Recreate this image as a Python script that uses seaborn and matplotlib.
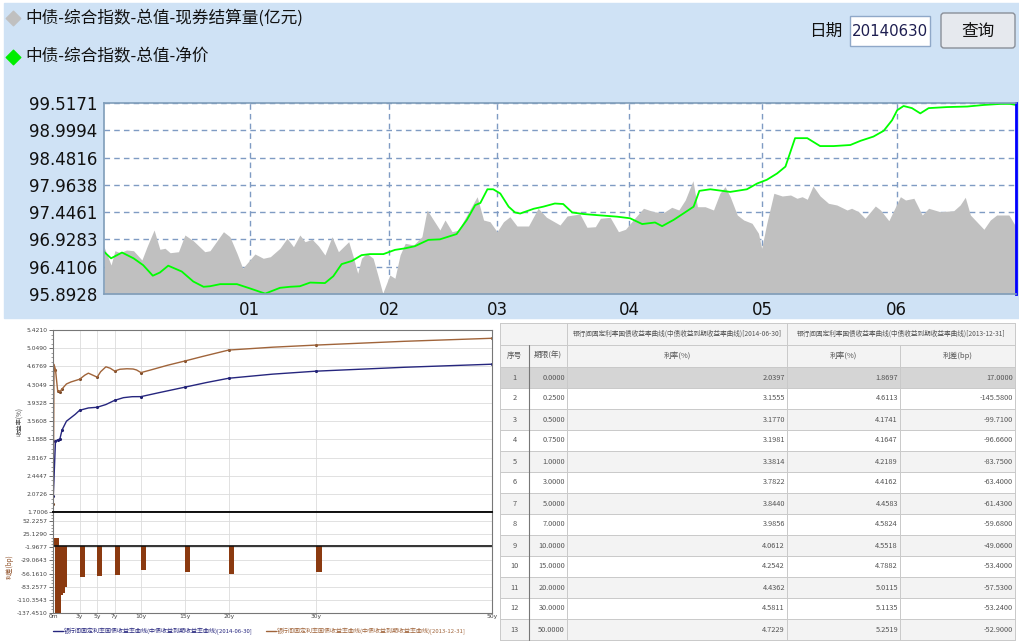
import matplotlib
matplotlib.use("Agg")
import matplotlib.pyplot as plt
from matplotlib.patches import Rectangle, FancyBboxPatch
from matplotlib.ticker import AutoMinorLocator
import seaborn as sns

# ---- top chart: 中债综合指数 (x = trading-day index, 2013-12 .. 2014-06-30)
month_labels = ["01", "02", "03", "04", "05", "06"]
month_pos = [22.7, 44.4, 61.2, 81.8, 102.5, 123.4]
price_ticks = [95.8928, 96.4106, 96.9283, 97.4461, 97.9638, 98.4816, 98.9994, 99.5171]

price_day = [0, 1.1, 2.8, 4.6, 6.1, 7.6, 8.7, 10.0, 12.1, 13.9,
             15.5, 16.5, 18.1, 20.7, 22.7, 25.1, 27.4, 29.0, 30.5, 32.1,
             34.4, 35.7, 37.0, 38.6, 40.1, 41.4, 43.5, 45.3, 46.9, 48.4,
             50.5, 52.3, 54.9, 56.5, 57.8, 58.6, 59.7, 60.6, 61.7, 63.0,
             64.0, 64.8, 66.9, 68.4, 70.2, 71.5, 72.9, 74.7, 76.7, 79.9,
             81.9, 83.8, 85.8, 86.9, 88.7, 90.2, 91.8, 92.7, 94.4, 97.5,
             100.1, 101.7, 103.2, 104.8, 106.1, 107.6, 109.5, 111.5, 113.6, 116.2,
             117.8, 119.8, 121.4, 122.7, 123.5, 124.5, 125.8, 127.1, 128.4, 131.3,
             134.4, 137.0, 139.6, 141.1, 142.0]
price_val = [96.695, 96.57, 96.68, 96.57, 96.44, 96.24, 96.30, 96.43, 96.32, 96.13,
             96.03, 96.04, 96.08, 96.08, 96.00, 95.90, 96.01, 96.03, 96.04, 96.11,
             96.10, 96.23, 96.46, 96.52, 96.63, 96.65, 96.65, 96.73, 96.76, 96.80,
             96.92, 96.93, 97.03, 97.30, 97.58, 97.62, 97.88, 97.88, 97.80, 97.55,
             97.44, 97.42, 97.51, 97.55, 97.61, 97.60, 97.44, 97.41, 97.39, 97.36,
             97.33, 97.22, 97.25, 97.18, 97.30, 97.42, 97.55, 97.85, 97.88, 97.83,
             97.88, 97.99, 98.06, 98.18, 98.31, 98.85, 98.85, 98.70, 98.70, 98.72,
             98.80, 98.88, 98.99, 99.19, 99.38, 99.46, 99.42, 99.32, 99.42, 99.44,
             99.45, 99.48, 99.50, 99.50, 99.48]

vol_day = [0, 1.1, 1.7, 2.5, 3.5, 4.6, 5.9, 6.7, 7.8, 8.7,
           9.5, 10.3, 11.6, 12.6, 13.9, 15.7, 16.5, 18.6, 19.6, 20.7,
           21.6, 23.5, 24.8, 25.9, 27.4, 28.5, 29.5, 30.5, 31.3, 32.4,
           33.4, 34.4, 35.5, 36.5, 38.1, 38.8, 39.5, 40.1, 40.9, 41.9,
           42.7, 43.4, 44.5, 45.3, 46.1, 46.9, 48.2, 49.5, 50.3, 51.3,
           52.3, 53.1, 54.2, 55.2, 56.5, 58.1, 59.1, 60.1, 61.2, 62.2,
           63.2, 64.3, 66.1, 67.6, 68.9, 71.0, 72.1, 74.1, 75.2, 76.5,
           77.3, 78.8, 80.1, 81.2, 82.4, 84.0, 85.6, 87.1, 88.4, 89.5,
           90.5, 91.7, 92.4, 93.6, 94.9, 95.9, 96.7, 97.5, 98.6, 99.6,
           100.9, 101.9, 102.4, 103.2, 104.3, 105.6, 106.9, 107.9, 108.7, 109.5,
           110.4, 111.5, 112.8, 114.1, 115.7, 116.4, 117.5, 118.5, 120.1, 120.9,
           122.2, 124.0, 124.8, 126.1, 127.4, 128.4, 130.2, 132.3, 133.3, 134.1,
           134.9, 137.0, 138.0, 139.0, 140.9, 142.0]
vol_val = [993, 609, 909, 867, 924, 909, 714, 993, 1344, 939,
           960, 867, 888, 1239, 1119, 888, 909, 1308, 1203, 855,
           540, 840, 750, 783, 960, 1170, 993, 1239, 1098, 1149,
           1008, 819, 1203, 888, 1098, 783, 435, 750, 855, 750,
           363, 15, 399, 330, 819, 1065, 1029, 1203, 1764, 1554,
           1344, 1554, 1308, 1344, 1659, 2043, 1554, 1518, 1308, 1518,
           1623, 1428, 1428, 1800, 1611, 1449, 1638, 1680, 1401, 1413,
           1590, 1611, 1308, 1359, 1554, 1800, 1728, 1707, 1821, 1764,
           1974, 2379, 1833, 1833, 1764, 2115, 2253, 2043, 1659, 1554,
           1485, 1275, 960, 1485, 2115, 2058, 2079, 2010, 2043, 1989,
           2268, 2058, 1905, 1869, 1764, 1800, 1728, 1590, 1848, 1764,
           1539, 2043, 1974, 2010, 1659, 1800, 1728, 1749, 1869, 2031,
           1659, 1359, 1554, 1659, 1659, 1413]

# ---- yield curves and spread table
key_tenor = [0, 0.25, 0.5, 0.75, 1, 3, 5, 7, 10, 15, 20, 30, 50]
rate_0630 = [2.0397, 3.1555, 3.1770, 3.1981, 3.3814, 3.7822, 3.8440,
             3.9856, 4.0612, 4.2542, 4.4362, 4.5811, 4.7229]
rate_1231 = [1.8697, 4.6113, 4.1741, 4.1647, 4.2189, 4.4162, 4.4583,
             4.5824, 4.5518, 4.7882, 5.0115, 5.1135, 5.2519]
spread_bp = [17.0, -145.58, -99.71, -96.66, -83.75, -63.40, -61.43,
             -59.68, -49.06, -53.40, -57.53, -53.24, -52.90]

curve0630_tenor = [0, 0.25, 0.5, 0.75, 1, 1.5, 2, 2.5, 3, 4, 5, 6, 7, 8, 9, 10,
                   12, 15, 17.5, 20, 25, 30, 40, 50]
curve0630_yield = [2.0397, 3.1555, 3.1770, 3.1981, 3.3814, 3.56, 3.63, 3.70, 3.7822,
                   3.83, 3.8440, 3.90, 3.9856, 4.04, 4.06, 4.0612, 4.14, 4.2542,
                   4.35, 4.4362, 4.52, 4.5811, 4.66, 4.7229]
curve1231_tenor = [0, 0.08, 0.25, 0.5, 0.75, 1, 1.5, 2, 3, 3.6, 4, 4.5, 5, 5.4, 6,
                   6.5, 7, 7.6, 8.4, 9.1, 9.5, 10, 11, 13, 15, 17, 20, 25, 30, 40, 50]
curve1231_yield = [1.8697, 4.72, 4.6113, 4.1741, 4.1647, 4.2189, 4.32, 4.36, 4.4162,
                   4.50, 4.54, 4.50, 4.4583, 4.57, 4.67, 4.64, 4.5824, 4.62, 4.63,
                   4.625, 4.605, 4.5518, 4.60, 4.70, 4.7882, 4.88, 5.0115, 5.07,
                   5.1135, 5.19, 5.2519]

yield_ticks = [1.7006, 2.0726, 2.4447, 2.8167, 3.1888, 3.5608, 3.9328,
               4.3049, 4.6769, 5.0490, 5.4210]
spread_ticks = [-137.4510, -110.3543, -83.2577, -56.1610, -29.0643,
                -1.9677, 25.1290, 52.2257]
tenor_ticks = [0, 3, 5, 7, 10, 15, 20, 30, 50]
tenor_labels = ["0m", "3y", "5y", "7y", "10y", "15y", "20y", "30y", "50y"]

curve_name = "银行间固定利率国债收益率曲线(中债收益到期收益率曲线)"
date_new, date_old = "2014-06-30", "2013-12-31"

sns.set_theme(style="white")
plt.rcParams["font.family"] = ["Noto Sans CJK SC", "DejaVu Sans"]
plt.rcParams["axes.unicode_minus"] = False

W, H = 1019, 641
fig = plt.figure(figsize=(W / 100, H / 100), dpi=100)
fig.patch.set_facecolor("white")

# pixel-space canvas for the panel chrome and the table
canvas = fig.add_axes([0, 0, 1, 1])
canvas.set_xlim(0, W)
canvas.set_ylim(H, 0)
canvas.axis("off")


def px_axes(x0, y0, x1, y1):
    return fig.add_axes([x0 / W, 1 - y1 / H, (x1 - x0) / W, (y1 - y0) / H])


BLUE_BG = "#cfe2f5"
canvas.add_patch(Rectangle((4, 3), W - 4, 315, color=BLUE_BG, zorder=0))

# legend of the top panel
canvas.scatter([13], [18], marker="D", s=55, color="#c0c0c0", zorder=2)
canvas.text(25, 18, "中债-综合指数-总值-现券结算量(亿元)", fontsize=12,
            va="center", color="#111111")
canvas.scatter([13], [57], marker="D", s=55, color="#00ee00", zorder=2)
canvas.text(25, 57, "中债-综合指数-总值-净价", fontsize=12, va="center",
            color="#111111")

# date box + button
canvas.text(826, 31, "日期", fontsize=12, ha="center", va="center", color="#111111")
canvas.add_patch(Rectangle((850, 16), 80, 30, facecolor="white",
                           edgecolor="#8fa8c8", lw=1, zorder=2))
canvas.text(890, 31, "20140630", fontsize=10.8, ha="center", va="center",
            color="#1e1e50", family="DejaVu Sans", zorder=3)
canvas.add_patch(FancyBboxPatch((941, 13), 74, 35, boxstyle="round,pad=0,rounding_size=3",
                                facecolor="#e6e9ee", edgecolor="#8a8f98", lw=1, zorder=2))
canvas.text(978, 31, "查询", fontsize=12, ha="center", va="center",
            color="#111111", zorder=3)

# ---------------- top chart
ax_p = px_axes(104, 103, 1016, 294)
ax_p.set_facecolor("white")
ax_p.set_xlim(0, 142)
ax_p.set_ylim(price_ticks[0], price_ticks[-1])
ax_p.set_yticks(price_ticks)
ax_p.set_yticklabels([f"{t:.4f}" for t in price_ticks], family="DejaVu Sans")
ax_p.set_xticks(month_pos)
ax_p.set_xticklabels(month_labels, family="DejaVu Sans")
ax_p.grid(True, ls=(0, (4, 3)), color="#7f9bc3", lw=1)
ax_p.tick_params(length=0, labelsize=12, pad=5, colors="#111111")
for s in ax_p.spines.values():
    s.set_visible(False)

ax_v = ax_p.twinx()
ax_v.fill_between(vol_day, vol_val, color="#c0c0c0", lw=0)
ax_v.set_ylim(0, 4011)
ax_v.set_xlim(0, 142)
ax_v.set_axis_off()

ax_l = ax_p.twinx()
sns.lineplot(x=price_day, y=price_val, ax=ax_l, color="#00ff00", lw=1.3)
ax_l.set_xlim(0, 142)
ax_l.set_ylim(price_ticks[0], price_ticks[-1])
ax_l.set_yticks([])
ax_l.set_ylabel("")
for s in ax_l.spines.values():
    s.set_color("#7f9db9")
    s.set_linewidth(1.2)
ax_l.spines["right"].set_color("#0000ff")
ax_l.spines["right"].set_linewidth(2)

# ---------------- yield curve chart (bottom left)
ax_c = px_axes(53.3, 330, 491.7, 512.3)
ax_s = px_axes(53.3, 512.3, 491.7, 612.7)

sns.lineplot(x=curve1231_tenor, y=curve1231_yield, ax=ax_c, color="#a0643a", lw=1.0)
sns.lineplot(x=curve0630_tenor, y=curve0630_yield, ax=ax_c, color="#26267e", lw=1.0)
sns.scatterplot(x=key_tenor, y=rate_1231, ax=ax_c, color="#7a4a28", s=5, lw=0)
sns.scatterplot(x=key_tenor, y=rate_0630, ax=ax_c, color="#1c1c6a", s=5, lw=0)
ax_c.set_xlim(0, 50)
ax_c.set_ylim(yield_ticks[0], yield_ticks[-1])
ax_c.set_yticks(yield_ticks)
ax_c.set_yticklabels([f"{t:.4f}" for t in yield_ticks])
ax_c.set_xticks(tenor_ticks)
ax_c.tick_params(axis="x", length=0, labelbottom=False)

ax_s.bar(key_tenor, spread_bp, width=0.6, align="edge", color="#8b3a10", lw=0)
ax_s.axhline(0, color="#111111", lw=1.2)
ax_s.set_xlim(0, 50)
ax_s.set_ylim(spread_ticks[0], 71)
ax_s.set_yticks(spread_ticks)
ax_s.set_yticklabels([f"{t:.4f}" for t in spread_ticks])
ax_s.set_xticks(tenor_ticks)
ax_s.set_xticklabels(tenor_labels)

for ax in (ax_c, ax_s):
    ax.set_facecolor("white")
    ax.grid(True, color="#dcdcdc", lw=0.6)
    ax.set_axisbelow(True)
    ax.yaxis.set_minor_locator(AutoMinorLocator(4))
    ax.tick_params(axis="y", which="major", length=3, width=0.6, color="#555555",
                   direction="out", left=True, labelsize=4.3, labelcolor="#444444", pad=1)
    ax.tick_params(axis="y", which="minor", length=1.5, width=0.5, color="#777777",
                   direction="out", left=True)
    ax.tick_params(axis="x", length=0, labelsize=4.3, labelcolor="#444444", pad=1)
    for lab in ax.get_yticklabels() + ax.get_xticklabels():
        lab.set_family("DejaVu Sans")
    for s in ax.spines.values():
        s.set_color("#777777")
        s.set_linewidth(0.8)
ax_c.spines["bottom"].set_color("#111111")
ax_c.spines["bottom"].set_linewidth(1.4)
ax_s.spines["top"].set_color("#111111")
ax_s.spines["top"].set_linewidth(1.4)

canvas.text(20, 421, "收益率(%)", fontsize=4.5, rotation=90, ha="center",
            va="center", color="#444444")
canvas.text(10, 567, "利差(bp)", fontsize=4.5, rotation=90, ha="center",
            va="center", color="#8b4a20")

# legend under the curve chart
canvas.plot([53, 63], [631, 631], color="#26267e", lw=1)
canvas.text(64, 631, f"{curve_name}[{date_new}]", fontsize=4.3, va="center",
            color="#26267e")
canvas.plot([266, 276], [631, 631], color="#a0643a", lw=1)
canvas.text(277, 631, f"{curve_name}[{date_old}]", fontsize=4.3, va="center",
            color="#a0643a")

# ---------------- table (bottom right)
col_edges = [500, 529, 567, 787, 900, 1015]
head1_top, head2_top, body_top, row_h = 323, 345, 367, 21
LINE = "#c9c9c9"
TXT = "#555555"

canvas.add_patch(Rectangle((500, head1_top), col_edges[-1] - 500, body_top - head1_top,
                           facecolor="#f3f3f3", edgecolor="none"))
for i in range(len(key_tenor)):
    y0 = body_top + i * row_h
    if i == 0:
        fc = "#d5d5d5"
    elif i % 2 == 1:
        fc = "white"
    else:
        fc = "#f3f3f3"
    canvas.add_patch(Rectangle((500, y0), col_edges[-1] - 500, row_h,
                               facecolor=fc, edgecolor="none"))
    yc = y0 + row_h / 2
    canvas.text((col_edges[0] + col_edges[1]) / 2, yc, str(i + 1), fontsize=5.3,
                ha="center", va="center", color=TXT)
    canvas.text(col_edges[2] - 2, yc, f"{key_tenor[i]:.4f}", fontsize=5.3,
                ha="right", va="center", color=TXT)
    canvas.text(col_edges[3] - 2, yc, f"{rate_0630[i]:.4f}", fontsize=5.3,
                ha="right", va="center", color=TXT)
    canvas.text(col_edges[4] - 2, yc, f"{rate_1231[i]:.4f}", fontsize=5.3,
                ha="right", va="center", color=TXT)
    canvas.text(col_edges[5] - 2, yc, f"{spread_bp[i]:.4f}", fontsize=5.3,
                ha="right", va="center", color=TXT)

bottom = body_top + len(key_tenor) * row_h
row_lines = [head1_top, head2_top] + [body_top + k * row_h for k in range(len(key_tenor) + 1)]
for y in row_lines:
    canvas.plot([500, col_edges[-1]], [y, y], color=LINE, lw=0.7)
for j, x in enumerate(col_edges):
    y_start = head1_top if j in (0, 2, 3, 5) else head2_top
    col = "#777777" if j == 1 else LINE
    canvas.plot([x, x], [y_start, bottom], color=col, lw=0.8 if j == 1 else 0.7)

canvas.text((col_edges[2] + col_edges[3]) / 2, (head1_top + head2_top) / 2,
            f"{curve_name}[{date_new}]", fontsize=4.8, ha="center", va="center", color=TXT)
canvas.text((col_edges[3] + col_edges[5]) / 2, (head1_top + head2_top) / 2,
            f"{curve_name}[{date_old}]", fontsize=4.8, ha="center", va="center", color=TXT)
head2 = ["序号", "期限(年)", "利率(%)", "利率(%)", "利差(bp)"]
for j, name in enumerate(head2):
    canvas.text((col_edges[j] + col_edges[j + 1]) / 2, (head2_top + body_top) / 2,
                name, fontsize=5.5, ha="center", va="center", color=TXT)

fig.savefig("out.png", dpi=100)
